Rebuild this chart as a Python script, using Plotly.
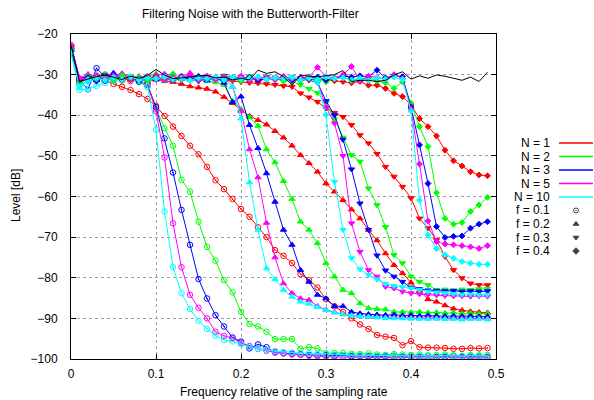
import plotly.graph_objects as go

# ---------------- data ----------------
freq = [0.00, 0.01, 0.02, 0.03, 0.04, 0.05, 0.06, 0.07, 0.08, 0.09,
        0.10, 0.11, 0.12, 0.13, 0.14, 0.15, 0.16, 0.17, 0.18, 0.19,
        0.20, 0.21, 0.22, 0.23, 0.24, 0.25, 0.26, 0.27, 0.28, 0.29,
        0.30, 0.31, 0.32, 0.33, 0.34, 0.35, 0.36, 0.37, 0.38, 0.39,
        0.40, 0.41, 0.42, 0.43, 0.44, 0.45, 0.46, 0.47, 0.48, 0.49]

orders = ["N = 1", "N = 2", "N = 3", "N = 5", "N = 10"]
cutoffs = ["f = 0.1", "f = 0.2", "f = 0.3", "f = 0.4"]

noise = [-22.7, -31.7, -31.1, -30.5, -30.1, -30.6, -31.2, -30.4, -30.9, -30.2,
         -28.7, -30.1, -31.0, -30.8, -30.5, -30.3, -30.2, -30.8, -30.6, -31.3,
         -30.9, -31.3, -28.9, -29.7, -29.3, -30.5, -32.6, -30.1, -30.4, -30.5,
         -30.3, -30.0, -29.0, -31.7, -31.4, -31.4, -31.7, -31.4, -30.1, -29.3,
         -31.1, -30.3, -30.9, -30.1, -30.4, -30.9, -31.4, -30.6, -31.7, -29.4]

# f = 0.1
f1_n1 = [-23.5, -31.2, -30.8, -30.5, -31.5, -32.3, -33.0, -33.8, -34.8, -36.0,
         -37.7, -40.2, -42.8, -45.1, -47.5, -49.6, -52.7, -56.0, -58.2, -60.6,
         -63.1, -65.0, -67.6, -70.0, -73.2, -74.6, -76.4, -79.1, -80.6, -82.4,
         -85.3, -87.0, -88.4, -90.0, -91.5, -92.6, -94.1, -94.5, -94.8, -96.6,
         -95.6, -97.1, -97.2, -97.2, -97.3, -97.5, -97.5, -97.3, -97.4, -97.3]
f1_n2 = [-23.8, -32.0, -30.5, -31.2, -30.4, -30.8, -31.5, -30.6, -31.8, -33.0,
         -38.5, -43.2, -47.5, -55.9, -58.8, -66.2, -72.4, -75.8, -80.6, -83.6,
         -88.4, -91.4, -92.0, -93.3, -95.1, -95.1, -95.1, -97.5, -97.1, -97.4,
         -98.6, -98.5, -98.5, -98.7, -98.8, -98.6, -98.9, -99.0, -98.8, -98.9,
         -99.0, -98.9, -99.1, -99.0, -98.9, -99.1, -99.2, -99.0, -99.1, -99.0]
f1_n3 = [-24.2, -31.5, -33.6, -28.4, -30.6, -31.3, -30.9, -31.0, -31.7, -32.5,
         -38.0, -45.7, -54.1, -63.3, -71.9, -80.3, -85.1, -89.2, -92.0, -94.7,
         -95.7, -97.4, -96.4, -97.1, -98.4, -98.6, -98.7, -98.9, -99.0, -99.1,
         -99.0, -99.2, -99.1, -99.3, -99.2, -99.3, -99.4, -99.3, -99.2, -99.4,
         -99.3, -99.4, -99.3, -99.5, -99.4, -99.3, -99.5, -99.4, -99.4, -99.5]
f1_n5 = [-22.7, -31.0, -31.5, -30.2, -30.0, -31.2, -30.4, -31.6, -30.8, -32.0,
         -39.0, -50.4, -66.6, -77.4, -84.2, -87.4, -90.0, -93.3, -94.3, -94.9,
         -96.0, -96.8, -97.5, -98.0, -98.3, -98.6, -98.9, -99.0, -99.2, -99.3,
         -99.4, -99.5, -99.5, -99.6, -99.5, -99.6, -99.7, -99.6, -99.7, -99.6,
         -99.7, -99.7, -99.8, -99.7, -99.7, -99.8, -99.7, -99.8, -99.8, -99.7]
f1_n10 = [-24.5, -33.8, -33.5, -32.8, -32.0, -31.6, -31.0, -30.8, -31.5, -33.0,
          -43.6, -63.7, -77.4, -83.8, -87.7, -90.6, -92.6, -94.3, -95.3, -95.7,
          -96.4, -97.0, -97.5, -97.8, -98.0, -98.2, -98.4, -98.5, -98.6, -98.7,
          -98.8, -98.9, -99.0, -99.0, -99.1, -99.1, -99.2, -99.1, -99.2, -99.2,
          -99.3, -99.2, -99.3, -99.3, -99.2, -99.3, -99.3, -99.2, -99.3, -99.3]

# f = 0.2
f2_n1 = [-23.2, -31.3, -30.2, -30.9, -31.4, -30.6, -30.9, -31.2, -30.8, -31.5,
         -31.2, -31.6, -31.8, -32.3, -32.9, -33.2, -33.5, -34.2, -35.5, -37.0,
         -38.7, -40.2, -41.2, -42.3, -43.9, -45.5, -47.5, -49.8, -51.8, -53.9,
         -56.8, -58.8, -60.9, -63.2, -65.4, -68.2, -70.8, -74.0, -76.9, -78.9,
         -81.2, -83.2, -85.3, -85.9, -86.8, -87.6, -88.0, -88.3, -88.5, -88.6]
f2_n2 = [-23.6, -32.3, -30.8, -31.0, -29.9, -30.6, -31.3, -30.5, -31.1, -30.3,
         -29.8, -31.5, -30.7, -31.2, -30.4, -31.0, -31.6, -31.8, -32.5, -36.5,
         -38.5, -40.5, -42.6, -48.4, -51.6, -56.2, -60.6, -66.2, -68.2, -71.5,
         -76.4, -79.7, -83.0, -83.8, -86.3, -87.5, -87.7, -87.8, -88.4, -88.4,
         -88.5, -88.4, -88.6, -88.5, -88.7, -88.6, -88.8, -88.7, -88.9, -88.8]
f2_n3 = [-24.0, -31.8, -30.1, -31.4, -30.8, -29.6, -31.0, -30.7, -31.5, -30.9,
         -31.2, -30.5, -31.0, -30.3, -31.1, -30.8, -31.4, -30.6, -32.0, -36.8,
         -35.4, -42.4, -48.1, -54.3, -61.3, -68.2, -71.9, -78.1, -81.0, -84.2,
         -85.1, -87.0, -87.0, -88.4, -88.8, -89.0, -89.1, -89.2, -89.1, -89.3,
         -89.2, -89.4, -89.3, -89.4, -89.5, -89.4, -89.5, -89.4, -89.6, -89.5]
f2_n5 = [-22.8, -31.1, -29.9, -30.6, -31.3, -30.2, -29.7, -30.9, -30.4, -31.2,
         -30.1, -29.8, -30.5, -31.0, -29.6, -30.7, -30.3, -31.1, -30.6, -33.0,
         -39.0, -48.4, -55.3, -66.5, -75.0, -81.4, -83.8, -85.1, -85.5, -87.0,
         -87.9, -88.5, -89.0, -89.3, -89.5, -89.6, -89.7, -89.8, -89.8, -89.9,
         -89.9, -90.0, -89.9, -90.0, -90.1, -90.0, -90.1, -90.1, -90.0, -90.1]
f2_n10 = [-24.8, -33.2, -31.5, -30.8, -31.6, -30.9, -31.2, -30.4, -30.8, -31.3,
          -30.6, -31.1, -30.5, -30.9, -31.4, -30.7, -31.0, -31.3, -30.9, -33.0,
          -40.8, -56.5, -68.2, -77.7, -80.4, -83.0, -84.7, -85.9, -86.4, -87.2,
          -88.0, -88.6, -89.0, -89.3, -89.5, -89.6, -89.8, -89.9, -90.0, -90.0,
          -90.1, -90.1, -90.2, -90.1, -90.2, -90.2, -90.3, -90.2, -90.2, -90.3]

# f = 0.3
f3_n1 = [-23.0, -31.0, -30.7, -31.3, -30.5, -30.9, -31.1, -30.6, -31.4, -30.8,
         -31.2, -30.7, -31.3, -31.0, -30.9, -31.5, -31.2, -31.0, -31.4, -31.6,
         -31.8, -32.0, -32.1, -32.3, -32.5, -32.8, -33.0, -34.6, -35.6, -36.7,
         -38.3, -39.4, -40.4, -42.4, -44.9, -46.9, -49.5, -52.7, -55.1, -57.6,
         -60.4, -65.4, -67.8, -70.7, -74.8, -78.1, -80.1, -81.4, -81.8, -81.8]
f3_n2 = [-23.3, -31.6, -30.9, -30.3, -31.4, -30.8, -31.0, -30.6, -31.2, -30.4,
         -30.9, -31.3, -30.7, -31.1, -30.5, -31.0, -30.8, -31.4, -30.6, -31.2,
         -30.9, -30.5, -31.1, -30.7, -31.3, -31.0, -31.6, -32.5, -33.5, -34.5,
         -37.0, -41.0, -45.5, -49.8, -51.4, -58.0, -62.1, -67.5, -74.4, -76.4,
         -79.7, -81.0, -81.8, -83.0, -82.9, -83.1, -82.9, -83.0, -82.8, -82.7]
f3_n3 = [-23.9, -31.2, -30.6, -31.7, -30.2, -31.0, -30.5, -31.3, -30.8, -31.5,
         -30.7, -31.0, -30.4, -31.2, -30.9, -31.6, -30.6, -31.1, -30.3, -30.8,
         -31.4, -30.9, -31.0, -30.6, -31.2, -30.8, -31.5, -30.9, -31.3, -32.0,
         -36.5, -40.0, -46.0, -53.3, -61.7, -68.2, -74.5, -78.2, -79.7, -81.0,
         -82.4, -82.8, -83.1, -83.2, -83.3, -83.2, -83.4, -83.3, -83.4, -83.3]
f3_n5 = [-23.1, -30.8, -31.3, -30.5, -30.9, -31.4, -30.3, -30.7, -31.0, -30.6,
         -31.2, -30.8, -31.5, -30.4, -30.9, -31.1, -30.6, -31.3, -30.8, -31.0,
         -30.5, -31.2, -30.9, -31.4, -30.7, -31.0, -30.6, -31.3, -30.9, -31.5,
         -38.0, -42.0, -50.0, -66.6, -73.6, -78.1, -79.7, -82.2, -82.6, -83.4,
         -83.8, -84.0, -84.2, -84.3, -84.4, -84.5, -84.5, -84.6, -84.5, -84.6]
f3_n10 = [-24.3, -32.6, -31.8, -31.0, -30.7, -31.4, -30.6, -31.2, -30.9, -31.5,
          -30.8, -31.1, -30.6, -31.3, -31.0, -30.7, -31.4, -30.9, -31.2, -30.6,
          -31.0, -30.8, -31.3, -30.7, -31.1, -30.9, -30.6, -31.4, -31.0, -32.0,
          -40.0, -56.4, -68.2, -75.2, -77.9, -79.3, -80.4, -81.5, -82.0, -82.3,
          -82.6, -83.0, -83.4, -83.6, -83.8, -84.0, -84.1, -84.1, -84.2, -84.2]

# f = 0.4
f4_n1 = [-23.4, -31.4, -31.0, -30.4, -31.2, -30.7, -30.5, -31.3, -30.9, -31.1,
         -30.6, -31.0, -31.4, -30.8, -31.2, -30.9, -31.1, -30.7, -31.3, -31.0,
         -31.2, -30.8, -31.5, -31.1, -30.9, -31.3, -31.0, -31.4, -31.2, -31.0,
         -31.3, -31.5, -31.7, -32.0, -31.7, -32.6, -32.6, -33.4, -34.6, -35.4,
         -37.5, -40.8, -42.8, -45.1, -48.6, -51.2, -52.5, -53.9, -54.7, -54.9]
f4_n2 = [-23.7, -31.9, -30.4, -31.1, -30.7, -31.3, -30.2, -31.0, -30.6, -31.4,
         -30.9, -31.2, -29.8, -31.0, -30.5, -31.3, -30.8, -31.1, -30.4, -30.9,
         -31.5, -30.7, -31.2, -30.6, -31.0, -31.6, -30.8, -31.3, -30.5, -31.1,
         -31.8, -30.9, -30.6, -31.4, -31.0, -30.8, -31.5, -32.0, -33.4, -31.8,
         -37.0, -42.8, -47.7, -59.1, -65.4, -66.8, -66.4, -63.7, -62.1, -60.2]
f4_n3 = [-24.1, -31.3, -30.7, -30.9, -31.5, -30.4, -31.1, -30.8, -31.2, -30.6,
         -31.0, -30.5, -31.3, -30.9, -31.1, -30.4, -31.2, -30.8, -31.5, -30.7,
         -31.0, -30.6, -31.4, -30.9, -31.1, -30.5, -31.2, -30.8, -31.0, -30.6,
         -31.3, -30.9, -30.4, -30.6, -30.3, -30.5, -28.9, -30.8, -30.2, -30.5,
         -38.0, -47.3, -56.8, -67.4, -70.1, -69.8, -69.7, -67.8, -66.8, -66.2]
f4_n5 = [-23.0, -30.9, -31.2, -30.6, -31.0, -30.4, -31.3, -30.8, -31.1, -30.5,
         -30.9, -31.4, -30.7, -31.0, -30.3, -31.2, -30.8, -31.1, -30.6, -31.0,
         -30.4, -31.3, -30.9, -30.7, -31.2, -30.5, -31.0, -30.8, -30.6, -28.2,
         -30.5, -30.8, -30.1, -28.0, -31.5, -30.4, -30.7, -31.2, -30.0, -31.0,
         -38.5, -52.0, -66.0, -71.1, -71.7, -71.9, -72.1, -72.4, -72.8, -72.1]
f4_n10 = [-24.6, -33.0, -31.2, -30.9, -31.4, -30.7, -31.1, -30.6, -31.3, -30.8,
          -31.0, -30.5, -31.2, -30.9, -31.4, -30.8, -31.0, -30.6, -31.3, -30.7,
          -31.1, -30.9, -30.5, -31.2, -30.8, -31.0, -30.7, -31.3, -30.9, -31.1,
          -30.6, -31.0, -30.8, -31.3, -30.9, -31.5, -30.8, -31.1, -30.6, -31.2,
          -39.0, -60.9, -69.5, -72.8, -74.4, -75.2, -76.0, -76.4, -76.7, -76.7]

series = [
    [f1_n1, f1_n2, f1_n3, f1_n5, f1_n10],
    [f2_n1, f2_n2, f2_n3, f2_n5, f2_n10],
    [f3_n1, f3_n2, f3_n3, f3_n5, f3_n10],
    [f4_n1, f4_n2, f4_n3, f4_n5, f4_n10],
]

xticks = [0, 0.1, 0.2, 0.3, 0.4, 0.5]
xticklabels = ["0", "0.1", "0.2", "0.3", "0.4", "0.5"]
yticks = [-100, -90, -80, -70, -60, -50, -40, -30, -20]

# ---------------- style ----------------
colors = ["#ff0000", "#00ff00", "#0000ff", "#ff00ff", "#00ffff"]
symbols = ["circle-open-dot", "triangle-up", "triangle-down", "diamond"]
sizes = [5.5, 5.5, 5.5, 4.5]
FONT = "Liberation Sans, Arial, sans-serif"

W, H = 594, 400
L, R, T, B = 71, 0, 34, 41
plot_right = 496
PW = W - L - R
PH = H - T - B


def px_to_paper_x(px):
    return (px - L) / PW


def py_to_paper_y(py):
    return (H - B - py) / PH


fig = go.Figure()

for fi, group in enumerate(series):
    for ni, vals in enumerate(group):
        fig.add_trace(go.Scatter(
            x=freq, y=vals, mode="lines+markers",
            line=dict(color=colors[ni], width=1),
            marker=dict(symbol=symbols[fi], size=sizes[fi], color=colors[ni],
                        line=dict(color=colors[ni], width=1)),
            showlegend=False, hoverinfo="skip",
            xaxis="x", yaxis="y"))

fig.add_trace(go.Scatter(x=freq, y=noise, mode="lines",
                         line=dict(color="#000000", width=1),
                         showlegend=False, hoverinfo="skip",
                         xaxis="x", yaxis="y"))

# ---------------- custom gnuplot-like key ----------------
row_py = [143, 156.5, 170, 183.5, 197, 210.5, 224, 237.5, 251]
shapes = []
for i, name in enumerate(orders):
    yy = py_to_paper_y(row_py[i])
    shapes.append(dict(type="line", xref="paper", yref="paper",
                       x0=px_to_paper_x(559), x1=px_to_paper_x(593),
                       y0=yy, y1=yy, line=dict(color=colors[i], width=1.5)))

for j, name in enumerate(cutoffs):
    fig.add_trace(go.Scatter(x=[0.5], y=[py_to_paper_y(row_py[5 + j])],
                             mode="markers",
                             marker=dict(symbol=symbols[j], size=5,
                                         color="#404040",
                                         line=dict(color="#404040", width=1)),
                             xaxis="x2", yaxis="y2", showlegend=False,
                             hoverinfo="skip"))

labels = orders + cutoffs
annotations = []
for k, text in enumerate(labels):
    annotations.append(dict(text=text, xref="paper", yref="paper",
                            x=px_to_paper_x(551), y=py_to_paper_y(row_py[k]),
                            xanchor="right", yanchor="middle", showarrow=False,
                            borderpad=0,
                            font=dict(family=FONT, size=12, color="black")))

annotations.append(dict(text="Filtering Noise with the Butterworth-Filter",
                        xref="paper", yref="paper",
                        x=px_to_paper_x(250), y=py_to_paper_y(14),
                        xanchor="center", yanchor="middle", showarrow=False,
                        font=dict(family=FONT, size=12, color="black")))
annotations.append(dict(text="Frequency relative of the sampling rate",
                        xref="paper", yref="paper",
                        x=px_to_paper_x((L + plot_right) / 2), y=py_to_paper_y(392),
                        xanchor="center", yanchor="middle", showarrow=False,
                        font=dict(family=FONT, size=12, color="black")))
annotations.append(dict(text="Level [dB]", textangle=-90,
                        xref="paper", yref="paper",
                        x=px_to_paper_x(16), y=py_to_paper_y(196),
                        xanchor="center", yanchor="middle", showarrow=False,
                        font=dict(family=FONT, size=12, color="black")))

axis_common = dict(showline=True, linecolor="black", linewidth=1,
                   mirror="ticks", ticks="inside", ticklen=5,
                   tickcolor="black", showgrid=True, gridcolor="#a0a0a0",
                   griddash="dot", gridwidth=1, zeroline=False,
                   automargin=False,
                   tickfont=dict(family=FONT, size=12, color="black"))

fig.update_layout(
    template="none",
    width=W, height=H,
    margin=dict(l=L, r=R, t=T, b=B, pad=0, autoexpand=False),
    paper_bgcolor="white", plot_bgcolor="white",
    showlegend=False,
    xaxis=dict(domain=[0, (plot_right - L) / PW], range=[0, 0.5],
               tickvals=xticks, ticktext=xticklabels,
               ticklabelstandoff=4, **axis_common),
    yaxis=dict(range=[-100, -20], tickvals=yticks,
               ticklabelstandoff=10, **axis_common),
    xaxis2=dict(domain=[px_to_paper_x(559), px_to_paper_x(593)], range=[0, 1],
                visible=False, anchor="y2", automargin=False),
    yaxis2=dict(domain=[0, 1], range=[0, 1], visible=False, anchor="x2",
                automargin=False),
    shapes=shapes,
    annotations=annotations,
)

fig.write_html("out.html")
